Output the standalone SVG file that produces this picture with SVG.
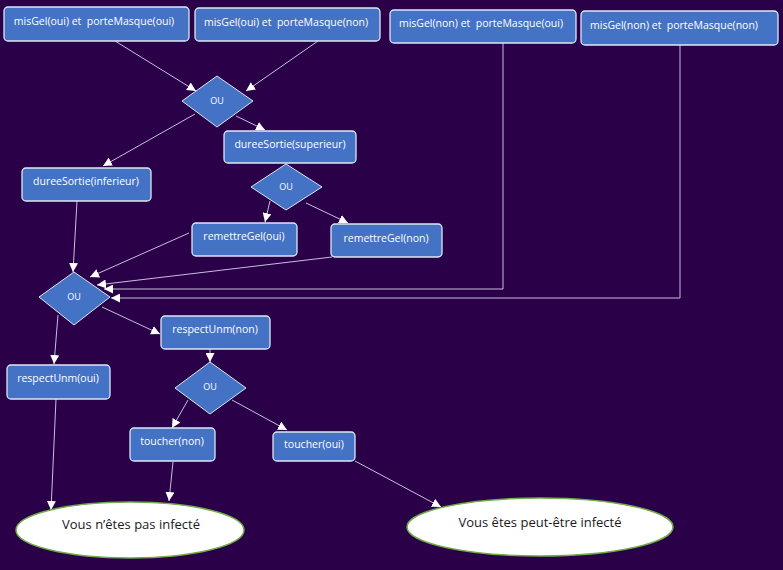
<svg xmlns="http://www.w3.org/2000/svg" width="783" height="570" viewBox="0 0 783 570">
<defs>
<marker id="ah" viewBox="0 0 10 10" refX="10" refY="5" markerWidth="9" markerHeight="9" markerUnits="userSpaceOnUse" orient="auto"><path d="M0,0 L10,5 L0,10 z" fill="#ffffff"/></marker>
<style>
.box{fill:#4472C4;stroke:#dfe6f5;stroke-width:1.3}
.dia{fill:#4472C4;stroke:#dfe6f5;stroke-width:1}
.bt{fill:#ffffff;font-family:"Open Sans","Liberation Sans",sans-serif;font-size:10.5px;text-anchor:middle;white-space:pre}
.dt{fill:#ffffff;font-family:"Open Sans","Liberation Sans",sans-serif;font-size:9px;text-anchor:middle}
.ell{fill:#ffffff;stroke:#70AD47;stroke-width:1.5}
.et{fill:#1a1a1a;font-family:"Open Sans","Liberation Sans",sans-serif;font-size:13px;text-anchor:middle}
.c{fill:none;stroke:#c9bedf;stroke-width:1;marker-end:url(#ah)}
</style>
</defs>
<rect width="783" height="570" fill="#2a0049"/>
<g id="connectors">
<line class="c" x1="115" y1="41" x2="196" y2="91"/>
<line class="c" x1="318" y1="41" x2="246" y2="91"/>
<line class="c" x1="195" y1="114" x2="103" y2="166"/>
<line class="c" x1="236" y1="116" x2="265" y2="130"/>
<line class="c" x1="270" y1="201" x2="265" y2="222"/>
<line class="c" x1="306" y1="203" x2="348" y2="223"/>
<line class="c" x1="77" y1="201" x2="73" y2="272"/>
<line class="c" x1="189" y1="233" x2="90" y2="277"/>
<line class="c" x1="332" y1="257" x2="97" y2="285"/>
<polyline class="c" points="503,43 503,289 104,289"/>
<polyline class="c" points="680,45 680,298 111,298"/>
<line class="c" x1="58" y1="315" x2="54" y2="364"/>
<line class="c" x1="102" y1="307" x2="160" y2="334"/>
<line class="c" x1="210" y1="349" x2="210" y2="362"/>
<line class="c" x1="188" y1="400" x2="172" y2="428"/>
<line class="c" x1="232" y1="400" x2="287" y2="430"/>
<line class="c" x1="173" y1="462" x2="169" y2="501"/>
<line class="c" x1="56" y1="399" x2="51" y2="510"/>
<line class="c" x1="355" y1="461" x2="441" y2="507"/>
</g>
<g id="n1"><rect class="box" x="4" y="7" width="185" height="34" rx="4"/><text class="bt" x="94" y="25" xml:space="preserve">misGel(oui) et  porteMasque(oui)</text></g>
<g id="n2"><rect class="box" x="195" y="8" width="185" height="33" rx="4"/><text class="bt" x="286" y="26" xml:space="preserve">misGel(oui) et  porteMasque(non)</text></g>
<g id="n3"><rect class="box" x="390" y="10" width="186" height="33" rx="4"/><text class="bt" x="481" y="27" xml:space="preserve">misGel(non) et  porteMasque(oui)</text></g>
<g id="n4"><rect class="box" x="581" y="11" width="197" height="34" rx="4"/><text class="bt" x="674" y="29" xml:space="preserve">misGel(non) et  porteMasque(non)</text></g>
<g id="d1"><polygon class="dia" points="217,76 253,101 217,127 182,101"/><text class="dt" x="217" y="104">OU</text></g>
<g id="n5"><rect class="box" x="224" y="131" width="132" height="32" rx="4"/><text class="bt" x="290" y="148">dureeSortie(superieur)</text></g>
<g id="n6"><rect class="box" x="22" y="168" width="129" height="33" rx="4"/><text class="bt" x="86" y="185">dureeSortie(inferieur)</text></g>
<g id="d2"><polygon class="dia" points="286,164 322,187 286,210 251,187"/><text class="dt" x="286" y="190">OU</text></g>
<g id="n7"><rect class="box" x="192" y="223" width="105" height="33" rx="4"/><text class="bt" x="244" y="240">remettreGel(oui)</text></g>
<g id="n8"><rect class="box" x="331" y="224" width="111" height="33" rx="4"/><text class="bt" x="386" y="242">remettreGel(non)</text></g>
<g id="d3"><polygon class="dia" points="74,272 110,297 74,325 39,297"/><text class="dt" x="74" y="300">OU</text></g>
<g id="n9"><rect class="box" x="161" y="316" width="109" height="33" rx="4"/><text class="bt" x="215" y="333">respectUnm(non)</text></g>
<g id="n10"><rect class="box" x="7" y="365" width="103" height="34" rx="4"/><text class="bt" x="58" y="382">respectUnm(oui)</text></g>
<g id="d4"><polygon class="dia" points="210,362 246,388 210,414 175,388"/><text class="dt" x="210" y="390">OU</text></g>
<g id="n11"><rect class="box" x="130" y="428" width="85" height="33" rx="4"/><text class="bt" x="172" y="445">toucher(non)</text></g>
<g id="n12"><rect class="box" x="273" y="432" width="82" height="29" rx="4"/><text class="bt" x="314" y="448">toucher(oui)</text></g>
<g id="e1"><ellipse class="ell" cx="130" cy="530" rx="114" ry="28"/><text class="et" x="131" y="529">Vous n’êtes pas infecté</text></g>
<g id="e2"><ellipse class="ell" cx="540" cy="527" rx="133" ry="29"/><text class="et" x="540" y="527">Vous êtes peut-être infecté</text></g>
</svg>
